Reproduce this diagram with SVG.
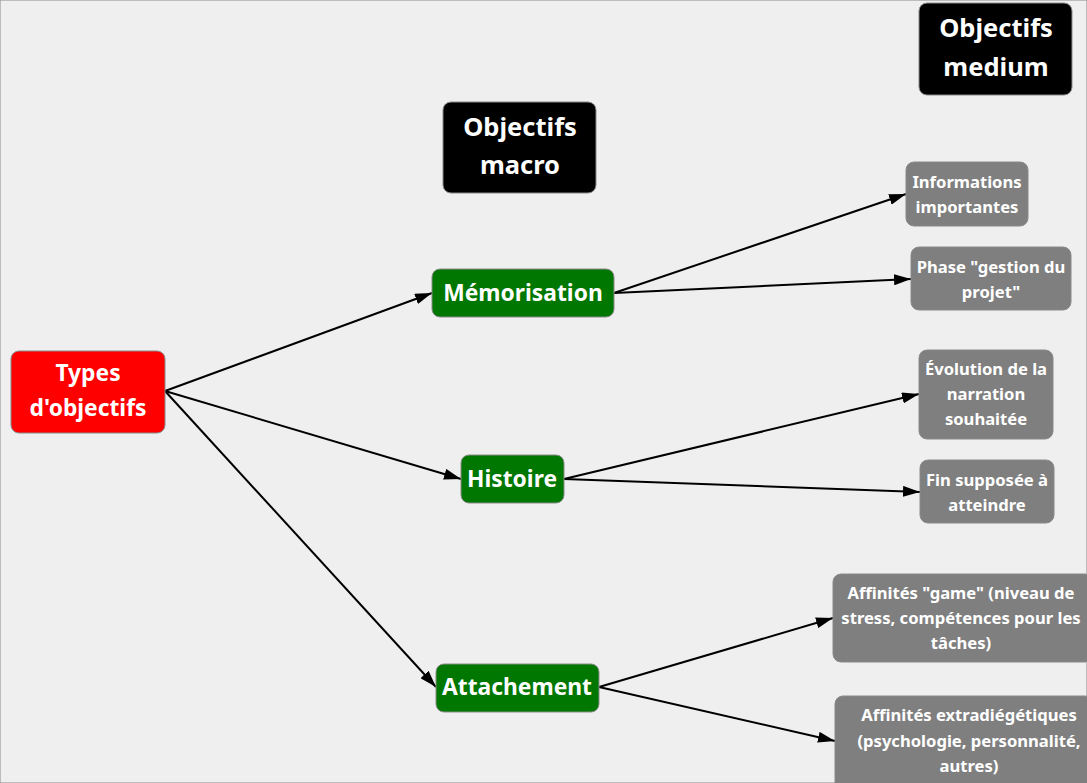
<svg xmlns="http://www.w3.org/2000/svg" width="1087" height="783" viewBox="0 0 1087 783">
<style>
text{font-family:"Noto Sans","Open Sans","DejaVu Sans",sans-serif;font-weight:bold;fill:#fff;text-anchor:middle;dominant-baseline:central}
.big{font-size:25.5px}
.mid{font-size:22.8px}
.sm{font-size:16.6px}
rect{stroke:#8a8a8a;stroke-width:1}
.red{fill:#ff0000}
.blk{fill:#000}
.grn{fill:#007700}
.gry{fill:#7f7f7f}
.edge{stroke:#000;stroke-width:2;fill:none;marker-end:url(#ah)}
</style>
<defs>
<marker id="ah" viewBox="0 0 17 11" refX="17" refY="5.5" markerWidth="17" markerHeight="11" markerUnits="userSpaceOnUse" orient="auto">
<path d="M0,0 L17,5.5 L0,11 Z" fill="#000"/>
</marker>
</defs>
<rect x="0" y="0" width="1087" height="783" fill="#efefef" stroke="none"/>
<g id="edges">
<line class="edge" x1="165" y1="391" x2="432" y2="293"/>
<line class="edge" x1="165" y1="391" x2="461" y2="479"/>
<line class="edge" x1="165" y1="391" x2="436" y2="687"/>
<line class="edge" x1="614" y1="293" x2="906" y2="194"/>
<line class="edge" x1="614" y1="293" x2="911" y2="279"/>
<line class="edge" x1="564" y1="479" x2="919" y2="394"/>
<line class="edge" x1="564" y1="479" x2="920" y2="492"/>
<line class="edge" x1="599" y1="687" x2="833" y2="618"/>
<line class="edge" x1="599" y1="687" x2="835" y2="741"/>
</g>
<g id="types">
<rect class="red" x="11" y="351" width="154" height="82" rx="8"/>
<text class="mid" x="88" y="372">Types</text>
<text class="mid" x="88" y="407">d'objectifs</text>
</g>
<g id="macro">
<rect class="blk" x="443" y="102" width="153" height="91" rx="8"/>
<text class="big" x="520" y="126">Objectifs</text>
<text class="big" x="520" y="164">macro</text>
</g>
<g id="medium">
<rect class="blk" x="919" y="3" width="153" height="92" rx="8"/>
<text class="big" x="996" y="27">Objectifs</text>
<text class="big" x="996" y="66">medium</text>
</g>
<g id="memorisation">
<rect class="grn" x="432" y="269" width="182" height="48" rx="8"/>
<text class="mid" x="523" y="292">Mémorisation</text>
</g>
<g id="histoire">
<rect class="grn" x="461" y="455" width="103" height="48" rx="8"/>
<text class="mid" x="512" y="478">Histoire</text>
</g>
<g id="attachement">
<rect class="grn" x="436" y="664" width="163" height="48" rx="8"/>
<text class="mid" x="517" y="686">Attachement</text>
</g>
<g id="informations">
<rect class="gry" x="906" y="162" width="122" height="64" rx="8"/>
<text class="sm" x="967" y="181">Informations</text>
<text class="sm" x="967" y="206">importantes</text>
</g>
<g id="phase">
<rect class="gry" x="911" y="247" width="160" height="63" rx="8"/>
<text class="sm" x="991" y="266">Phase "gestion du</text>
<text class="sm" x="991" y="291">projet"</text>
</g>
<g id="evolution">
<rect class="gry" x="919" y="350" width="134" height="89" rx="8"/>
<text class="sm" x="986" y="368">Évolution de la</text>
<text class="sm" x="986" y="393">narration</text>
<text class="sm" x="986" y="418">souhaitée</text>
</g>
<g id="fin">
<rect class="gry" x="920" y="460" width="134" height="63" rx="8"/>
<text class="sm" x="987" y="479">Fin supposée à</text>
<text class="sm" x="987" y="504">atteindre</text>
</g>
<g id="game">
<rect class="gry" x="833" y="574" width="260" height="88" rx="8"/>
<text class="sm" x="961" y="592">Affinités "game" (niveau de</text>
<text class="sm" x="961" y="617">stress, compétences pour les</text>
<text class="sm" x="961" y="642">tâches)</text>
</g>
<g id="extra">
<rect class="gry" x="835" y="696" width="258" height="95" rx="8"/>
<text class="sm" x="969" y="714">Affinités extradiégétiques</text>
<text class="sm" x="969" y="740">(psychologie, personnalité,</text>
<text class="sm" x="969" y="765">autres)</text>
</g>
</svg>
